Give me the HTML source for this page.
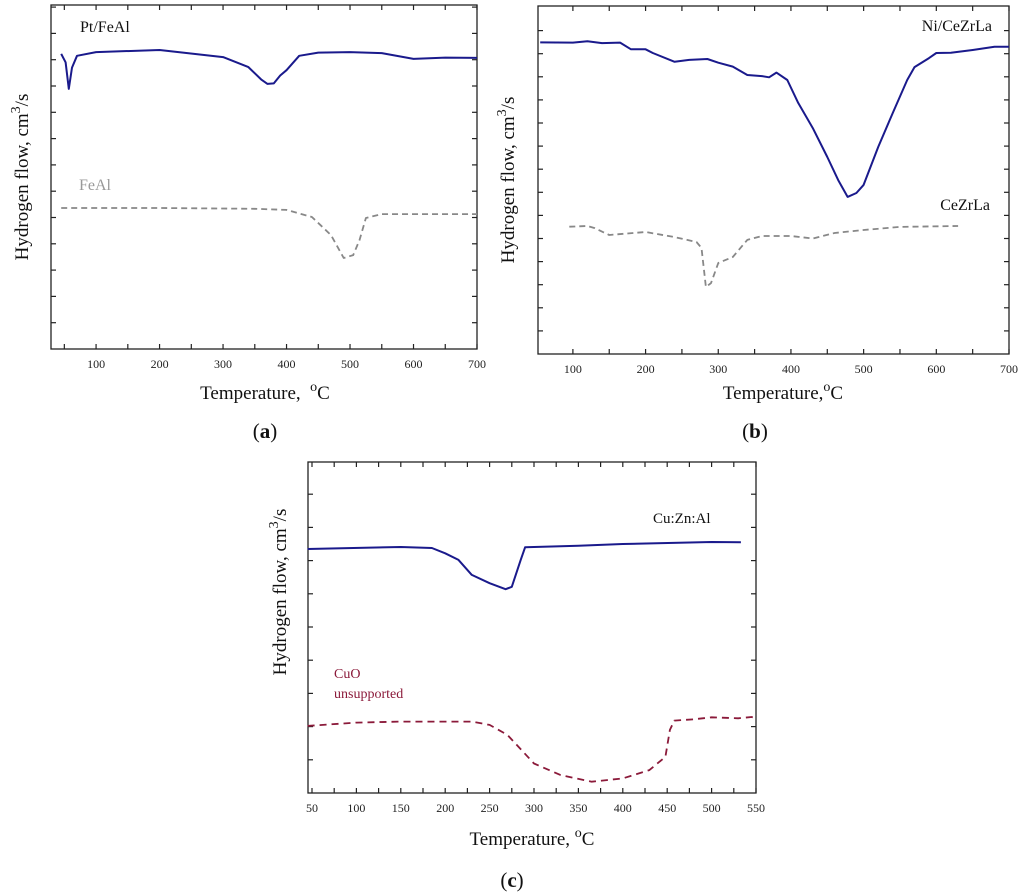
<!DOCTYPE html>
<html><head><meta charset="utf-8">
<style>
html,body{margin:0;padding:0;background:#fff;}
svg{display:block;font-family:"Liberation Serif",serif;}
</style></head>
<body>
<svg id="fig" width="1024" height="896" viewBox="0 0 1024 896"></svg>
<script>
// ---- Panel (a) data ----
const aPtX=[45,52,57,62,70,100,200,300,340,360,370,380,390,400,420,450,500,550,600,650,700];
const aPtY=[11.22,10.9,9.89,10.7,11.15,11.29,11.37,11.10,10.72,10.25,10.08,10.1,10.4,10.6,11.15,11.27,11.29,11.25,11.03,11.08,11.07];
const aFeX=[45,200,350,400,440,470,490,505,515,525,550,600,700];
const aFeY=[5.36,5.36,5.33,5.29,5.02,4.33,3.46,3.57,4.14,4.98,5.13,5.13,5.13];
const aTicks=[100,200,300,400,500,600,700];
// ---- Panel (b) data ----
const bNiX=[55,100,120,140,165,180,200,210,240,260,285,300,320,340,360,370,380,395,410,430,450,465,478,490,500,520,540,560,570,590,600,620,650,680,700];
const bNiY=[13.49,13.48,13.54,13.46,13.48,13.19,13.19,13.03,12.65,12.73,12.77,12.61,12.44,12.08,12.03,11.98,12.18,11.86,10.87,9.78,8.53,7.53,6.80,6.97,7.32,8.96,10.43,11.86,12.42,12.81,13.03,13.04,13.16,13.30,13.30];
const bCeX=[95,120,130,150,200,240,270,277,283,290,300,320,340,360,400,430,460,500,550,630];
const bCeY=[5.51,5.54,5.45,5.15,5.28,5.06,4.85,4.59,2.90,3.07,3.94,4.20,4.94,5.11,5.11,5.0,5.24,5.37,5.50,5.54];
const bTicks=[100,200,300,400,500,600,700];
// ---- Panel (c) data ----
const cCuX=[45,150,185,200,215,230,250,268,275,285,290,350,400,500,533];
const cCuY=[7.35,7.41,7.38,7.22,7.02,6.57,6.32,6.14,6.21,7.02,7.40,7.45,7.50,7.56,7.55];
const cOX=[45,100,150,230,250,270,300,330,365,400,430,448,453,458,480,500,530,545,550];
const cOY=[2.02,2.12,2.15,2.15,2.05,1.75,0.89,0.54,0.34,0.44,0.69,1.09,1.90,2.18,2.22,2.28,2.25,2.29,2.25];
const cTicks=[50,100,150,200,250,300,350,400,450,500,550];

const NS="http://www.w3.org/2000/svg";
const svg=document.getElementById('fig');
function mk(tag,attrs,parent){const e=document.createElementNS(NS,tag);for(const k in attrs)e.setAttribute(k,attrs[k]);(parent||svg).appendChild(e);return e;}

function panel(p){
  const g=mk('g',{});
  
  
  const sx=v=>p.L+(v-p.xmin)/(p.xmax-p.xmin)*(p.R-p.L);
  const sy=v=>p.B-v*p.ypx;
  const fr=mk('rect',{x:p.L,y:p.T,width:p.R-p.L,height:p.B-p.T,fill:'none',stroke:'#222','stroke-width':1.3},g);
  
  
  // y ticks
  for(let v=1;v*p.ypx<p.B-p.T-2;v++){
    const y=sy(v);
    mk('line',{x1:p.L,x2:p.L+5,y1:y,y2:y,stroke:'#222','stroke-width':1.2},g);
    mk('line',{x1:p.R,x2:p.R-5,y1:y,y2:y,stroke:'#222','stroke-width':1.2},g);
  }
  // x ticks
  const step=p.minor;
  for(let v=Math.ceil(p.xmin/step)*step;v<=p.xmax;v+=step){
    const x=sx(v);
    mk('line',{x1:x,x2:x,y1:p.B,y2:p.B-5,stroke:'#222','stroke-width':1.2},g);
    mk('line',{x1:x,x2:x,y1:p.T,y2:p.T+5,stroke:'#222','stroke-width':1.2},g);
  }
  p.ticks.forEach(v=>{
    const t=mk('text',{x:sx(v),y:p.B+19,'font-size':12,'text-anchor':'middle',fill:'#222'},g);
    t.textContent=v;
    
    
  });
  p.series.forEach(s=>{
    const pts=s.x.map((xv,i)=>sx(xv).toFixed(1)+','+sy(s.y[i]).toFixed(1)).join(' ');
    const l=mk('polyline',{points:pts,fill:'none',stroke:s.color,'stroke-width':s.w,'stroke-dasharray':s.dash||'none','stroke-linejoin':'round'},g);
    
    
  });
  return g;
}
function text(x,y,str,size,opts,name){
  const t=mk('text',Object.assign({x:x,y:y,'font-size':size,fill:'#111'},opts||{}));
  t.innerHTML=str;
  
  
  return t;
}

panel({name:'panel-a',L:51,T:5,R:477,B:349,xmin:29,xmax:700,ypx:26.3,minor:50,ticks:aTicks,
  series:[{name:'pt-feal-line',x:aPtX,y:aPtY,color:'#1a1a8c',w:2},
          {name:'feal-line',x:aFeX,y:aFeY,color:'#888',w:1.8,dash:'6,4'}]});
panel({name:'panel-b',L:538,T:6,R:1009,B:354,xmin:52,xmax:700,ypx:23.1,minor:50,ticks:bTicks,
  series:[{name:'ni-cezrla-line',x:bNiX,y:bNiY,color:'#1a1a8c',w:2},
          {name:'cezrla-line',x:bCeX,y:bCeY,color:'#888',w:1.8,dash:'6,4'}]});
panel({name:'panel-c',L:308,T:462,R:756,B:793,xmin:45.5,xmax:550,ypx:33.2,minor:25,ticks:cTicks,
  series:[{name:'cu-zn-al-line',x:cCuX,y:cCuY,color:'#1a1a8c',w:2},
          {name:'cuo-line',x:cOX,y:cOY,color:'#8b1a3a',w:1.8,dash:'7,5'}]});

// annotations
text(80,32,'Pt/FeAl',16,{},'label-pt-feal');
text(79,190,'FeAl',16,{fill:'#999'},'label-feal');
text(992,31,'Ni/CeZrLa',16,{'text-anchor':'end'},'label-ni-cezrla');
text(990,210,'CeZrLa',16,{'text-anchor':'end'},'label-cezrla');
text(653,523,'Cu:Zn:Al',15,{},'label-cu-zn-al');
text(334,678,'CuO',14,{fill:'#8b1a3a'},'label-cuo');
text(334,698,'unsupported',14,{fill:'#8b1a3a'},'label-unsupported');

// axis titles
text(265,399,'Temperature,&#160; <tspan font-size="14" dy="-8">o</tspan><tspan dy="8">C</tspan>',19,{'text-anchor':'middle'},'x-axis-title-a');
text(783,399,'Temperature,<tspan font-size="14" dy="-8">o</tspan><tspan dy="8">C</tspan>',19,{'text-anchor':'middle'},'x-axis-title-b');
text(532,845,'Temperature, <tspan font-size="14" dy="-8">o</tspan><tspan dy="8">C</tspan>',19,{'text-anchor':'middle'},'x-axis-title-c');
text(0,0,'Hydrogen flow, cm<tspan font-size="14" dy="-8">3</tspan><tspan dy="8">/s</tspan>',19,{'text-anchor':'middle',transform:'translate(28,177) rotate(-90)'},'y-axis-title-a');
text(0,0,'Hydrogen flow, cm<tspan font-size="14" dy="-8">3</tspan><tspan dy="8">/s</tspan>',19,{'text-anchor':'middle',transform:'translate(514,180) rotate(-90)'},'y-axis-title-b');
text(0,0,'Hydrogen flow, cm<tspan font-size="14" dy="-8">3</tspan><tspan dy="8">/s</tspan>',19,{'text-anchor':'middle',transform:'translate(286,592) rotate(-90)'},'y-axis-title-c');

// panel captions
text(265,438,'(<tspan font-weight="bold">a</tspan>)',21,{'text-anchor':'middle'},'caption-a');
text(755,438,'(<tspan font-weight="bold">b</tspan>)',21,{'text-anchor':'middle'},'caption-b');
text(512,887,'(<tspan font-weight="bold">c</tspan>)',21,{'text-anchor':'middle'},'caption-c');
</script>
</body></html>
